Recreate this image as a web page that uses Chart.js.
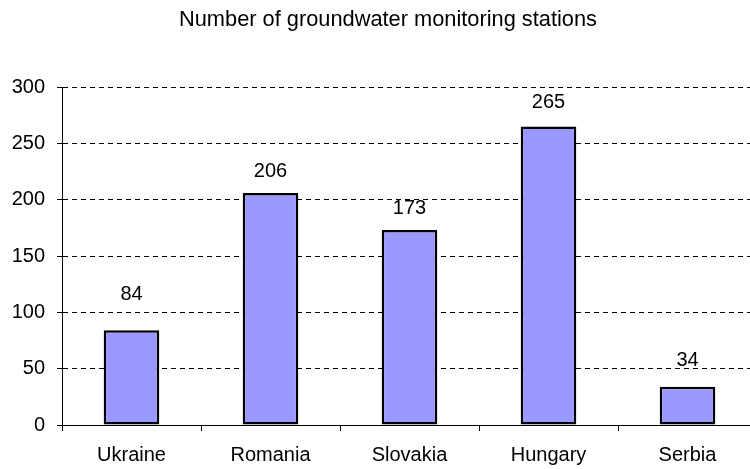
<!DOCTYPE html>
<html>
<head>
<meta charset="utf-8">
<script src="https://cdn.jsdelivr.net/npm/chart.js@4/dist/chart.umd.min.js"></script>
<style>
html,body{margin:0;padding:0;background:#fff;overflow:hidden;}
#wrap{width:750px;height:469px;overflow:hidden;position:relative;}
canvas{display:block;}
</style>
</head>
<body>
<div id="wrap"><canvas id="c" width="760" height="469"></canvas></div>
<script>
const titleText = "Number of groundwater monitoring stations";
const categories = ["Ukraine", "Romania", "Slovakia", "Hungary", "Serbia"];
const stations = [84, 206, 173, 265, 34];
const yTicks = [0, 50, 100, 150, 200, 250, 300];
// styling: gap (px) between bar top and value-label baseline, as in the original
const labelGap = [30, 16, 16, 18, 21];

const FONT = "'Liberation Sans', Arial, sans-serif";

const labelPlugin = {
  id: 'labels',
  afterDatasetsDraw(chart) {
    const ctx = chart.ctx;
    const meta = chart.getDatasetMeta(0);
    ctx.save();
    ctx.font = "20px " + FONT;
    ctx.fillStyle = "#000";
    ctx.textAlign = "center";
    ctx.textBaseline = "alphabetic";
    meta.data.forEach((bar, i) => {
      ctx.fillText(String(stations[i]), bar.x, bar.y - labelGap[i]);
    });
    ctx.restore();
  },
  afterDraw(chart) {
    const ctx = chart.ctx;
    ctx.save();
    ctx.font = "21.8px " + FONT;
    ctx.fillStyle = "#000";
    ctx.textAlign = "center";
    ctx.textBaseline = "middle";
    ctx.fillText(titleText, 388, 20);
    ctx.restore();
  }
};

new Chart(document.getElementById('c'), {
  type: 'bar',
  data: {
    labels: categories,
    datasets: [{
      data: stations,
      backgroundColor: '#9999FF',
      borderColor: '#000000',
      borderWidth: 2.5,
      borderSkipped: false,
      categoryPercentage: 1.0,
      barPercentage: 0.4
    }]
  },
  options: {
    responsive: false,
    devicePixelRatio: 1,
    animation: false,
    layout: { padding: { top: 87, right: 3, bottom: 0, left: 0 } },
    plugins: { legend: { display: false }, tooltip: { enabled: false }, title: { display: false } },
    scales: {
      x: {
        grid: { display: true, drawOnChartArea: false, drawTicks: true, tickLength: 6, color: '#000', offset: true },
        border: { display: true, color: '#000', width: 1 },
        ticks: { color: '#000', font: { family: FONT, size: 20 }, padding: 12, maxRotation: 0, autoSkip: false },
        afterFit(scale) { scale.height = 44; }
      },
      y: {
        min: 0, max: 300,
        afterBuildTicks(scale) { scale.ticks = yTicks.map(v => ({ value: v })); },
        grid: {
          color: ctx => (ctx.tick && ctx.tick.value === 0) ? 'rgba(0,0,0,0)' : '#000',
          tickBorderDash: [1, 0],
          tickColor: '#000',
          tickLength: 5,
          drawTicks: true,
          lineWidth: 1
        },
        border: { display: true, color: '#000', width: 1, dash: [5, 4] },
        ticks: { color: '#000', font: { family: FONT, size: 20 }, padding: 12 },
        afterFit(scale) { scale.width = 62; }
      }
    }
  },
  plugins: [labelPlugin]
});
</script>
</body>
</html>
